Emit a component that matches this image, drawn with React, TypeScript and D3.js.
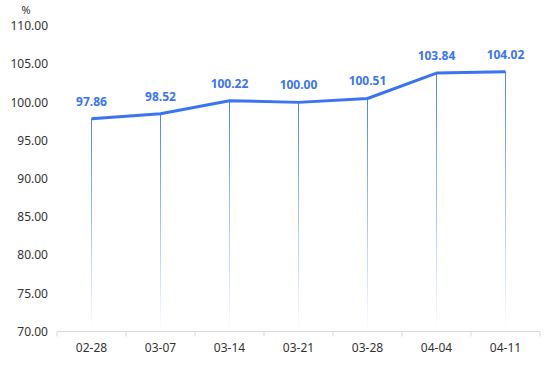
import React from 'react';
import * as d3 from 'd3';

const dates = ['02-28', '03-07', '03-14', '03-21', '03-28', '04-04', '04-11'];
const values = [97.86, 98.52, 100.22, 100.0, 100.51, 103.84, 104.02];
const yTicks = [70, 75, 80, 85, 90, 95, 100, 105, 110];

const App = () => {
  const width = 554;
  const height = 369;
  const left = 57;
  const right = 540;
  const top = 26;
  const bottom = 331.5;

  const x = d3.scaleBand().domain(dates).range([left, right]);
  const y = d3.scaleLinear().domain([70, 110]).range([bottom, top]);
  const cx = (d: string) => (x(d) as number) + x.bandwidth() / 2;

  const line = d3
    .line<number>()
    .x((_, i) => cx(dates[i]))
    .y((v) => y(v));

  const font = '"Noto Sans", "DejaVu Sans", sans-serif';
  const blue = '#3b74f2';

  return (
    <svg width={width} height={height} style={{ position: 'absolute', left: 0, top: 0 }}>
      <defs>
        <linearGradient id="drop" x1="0" y1="0" x2="0" y2="1">
          <stop offset="0%" stopColor={blue} stopOpacity={0.9} />
          <stop offset="100%" stopColor={blue} stopOpacity={0} />
        </linearGradient>
      </defs>
      <text x={26} y={14} fontSize={11} fill="#333" fontFamily={font} textAnchor="middle">%</text>
      {yTicks.map((t) => (
        <text key={t} x={48} y={y(t)} dy="0.35em" fontSize={12} fill="#333" fontFamily={font} textAnchor="end">
          {t.toFixed(2)}
        </text>
      ))}
      {values.map((v, i) => (
        <rect
          key={'v' + i}
          x={cx(dates[i]) - 0.5}
          y={y(v)}
          width={1}
          height={bottom - y(v)}
          fill="url(#drop)"
        />
      ))}
      <line x1={left} x2={right} y1={bottom} y2={bottom} stroke="#d9d9d9" />
      {[...dates.map((d) => x(d) as number), right].map((px, i) => (
        <line key={'t' + i} x1={px} x2={px} y1={bottom} y2={bottom + 5} stroke="#d9d9d9" />
      ))}
      {dates.map((d) => (
        <text key={d} x={cx(d)} y={bottom + 20} fontSize={12} fill="#333" fontFamily={font} textAnchor="middle">
          {d}
        </text>
      ))}
      <path d={line(values) || ''} fill="none" stroke={blue} strokeWidth={3} strokeLinejoin="round" />
      {values.map((v, i) => (
        <text
          key={'l' + i}
          x={cx(dates[i])}
          y={y(v) - 13}
          fontSize={12}
          fontWeight="bold"
          fill={blue}
          fontFamily={font}
          textAnchor="middle"
        >
          {v.toFixed(2)}
        </text>
      ))}
    </svg>
  );
};

export default App;
